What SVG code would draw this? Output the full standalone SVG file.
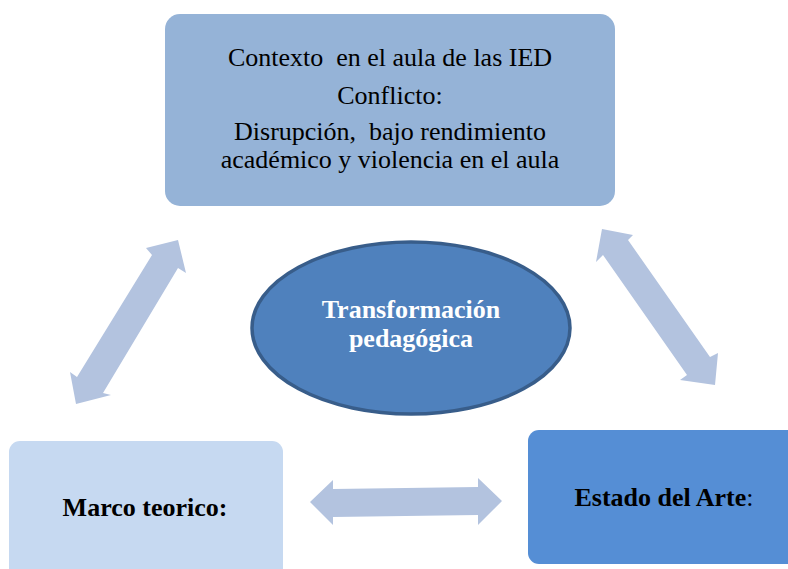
<svg xmlns="http://www.w3.org/2000/svg" width="788" height="569" viewBox="0 0 788 569">
<style>
.t{font-family:"Liberation Serif","Times New Roman",serif;font-size:26px;fill:#000;text-anchor:middle}
.b{font-family:"Liberation Serif","Times New Roman",serif;font-size:26px;font-weight:bold;text-anchor:middle}
.arrow{fill:#b3c3df}
</style>
<rect width="788" height="569" fill="#fff"/>
<g id="connectors">
<polygon class="arrow" points="178,240 186,273 178,268 103,393 111,395 76,404 70,372 77,377 152,255 146,248"/>
<polygon class="arrow" points="602,229 633,235 628,240 710,357 718,353 715,385 680,380 687,375 603,255 596,262"/>
<polygon class="arrow" points="310,502 333,480 333,489 478,487 478,478 502,501 478,525 478,515 333,517 333,525"/>
</g>
<g id="contexto">
<rect x="165" y="14" width="450" height="192" rx="15" fill="#95b3d7"/>
<text class="t" x="390" y="66" xml:space="preserve">Contexto  en el aula de las IED</text>
<text class="t" x="390" y="104">Conflicto:</text>
<text class="t" x="390" y="140" xml:space="preserve">Disrupción,  bajo rendimiento</text>
<text class="t" x="390" y="168">académico y violencia en el aula</text>
</g>
<g id="transformacion">
<ellipse cx="411" cy="328" rx="159" ry="86" fill="#4f81bd" stroke="#385d8a" stroke-width="3.5"/>
<text class="b" x="411" y="318" fill="#fff">Transformación</text>
<text class="b" x="411" y="347" fill="#fff">pedagógica</text>
</g>
<g id="marco">
<rect x="9" y="441" width="274" height="150" rx="11" fill="#c6d9f1"/>
<text class="b" x="145" y="516" fill="#000">Marco teorico:</text>
</g>
<g id="estado">
<rect x="528" y="430" width="290" height="134" rx="11" fill="#558ed5"/>
<text class="b" x="664" y="506" fill="#000">Estado del Arte<tspan font-weight="normal">:</tspan></text>
</g>
</svg>
